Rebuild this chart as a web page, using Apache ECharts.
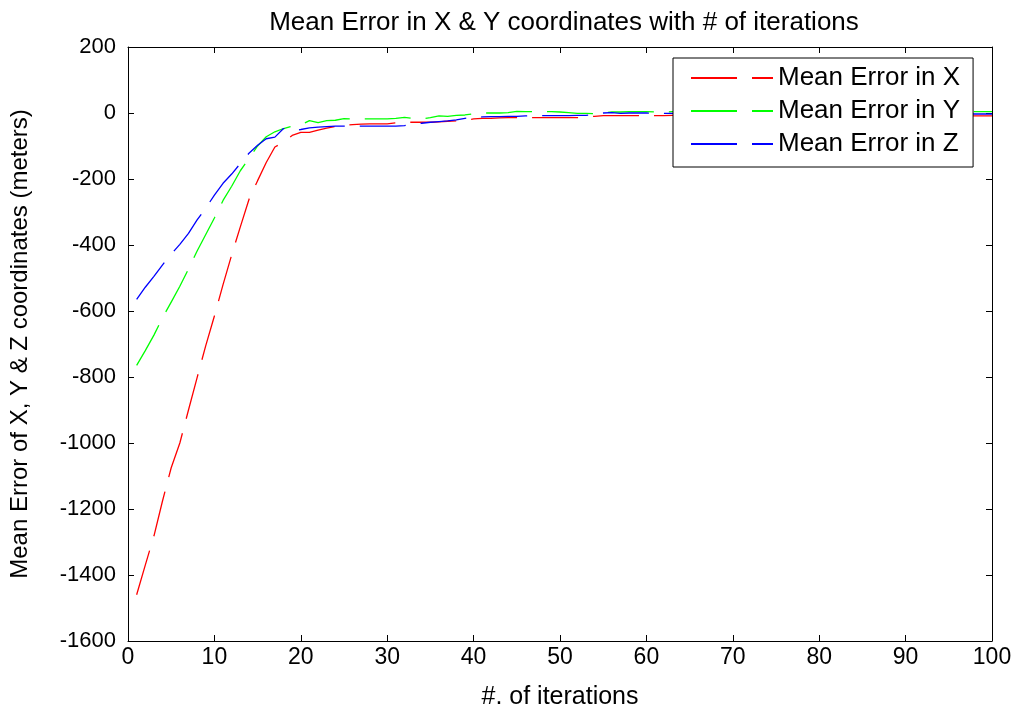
<!DOCTYPE html>
<html>
<head>
<meta charset="utf-8">
<script src="https://cdn.jsdelivr.net/npm/echarts@6/dist/echarts.min.js"></script>
<style>
  html, body { margin: 0; padding: 0; background: #fff; }
  #chart { width: 1019px; height: 715px; }
</style>
</head>
<body>
<div id="chart"></div>
<script>
// iteration numbers 1..100
var iterations = [];
for (var i = 1; i <= 100; i++) iterations.push(i);

var errorX = [
  -1460, -1370, -1282, -1175, -1075, -1000, -900, -802, -705, -615,
  -520, -430, -345, -262, -205, -150, -103, -88, -68, -59,
  -59, -52, -46, -41, -37, -35, -34, -33, -33, -33,
  -30, -28, -28, -28, -28, -27, -25, -24, -22, -18,
  -16, -16, -15, -14, -14, -14, -14, -14, -14, -14,
  -14, -14, -13, -10, -8, -8, -8, -8, -8, -8,
  -8, -8, -7, -7, -7, -8, -8, -8, -8, -9,
  -9, -8, -8, -8, -9, -9, -9, -8, -8, -8,
  -9, -9, -9, -9, -8, -8, -9, -9, -9, -9,
  -9, -9, -9, -9, -9, -9, -9, -9, -9, -9
];
var errorY = [
  -765, -720, -673, -620, -573, -525, -473, -418, -368, -318,
  -265, -222, -175, -138, -100, -72, -57, -47, -40, -36,
  -23, -29, -23, -22, -17, -18, -18, -18, -18, -18,
  -16, -13, -17, -18, -14, -9, -10, -7, -6, -2,
  0, 0, 0, 1, 5, 4, 4, 4, 4, 3,
  1, -1, -1, -2, 1, 3, 3, 4, 4, 4,
  3, 3, 4, 4, 3, 3, 4, 4, 4, 4,
  3, 3, 4, 4, 4, 4, 3, 3, 4, 4,
  4, 4, 4, 3, 3, 4, 4, 4, 4, 4,
  4, 4, 4, 4, 4, 4, 4, 4, 4, 4
];
var errorZ = [
  -565, -528, -495, -460, -428, -398, -365, -324, -288, -249,
  -213, -185, -153, -122, -98, -78, -73, -47, -54, -50,
  -45, -43, -41, -40, -40, -40, -40, -40, -40, -40,
  -40, -38, -35, -31, -28, -26, -24, -21, -16, -13,
  -12, -11, -11, -10, -10, -9, -8, -8, -8, -8,
  -8, -7, -7, -5, 0, 1, -1, 0, 0, 0,
  -1, -1, -1, -1, -2, -2, -2, -1, -1, -2,
  -2, -2, -2, -3, -3, -2, -2, -2, -3, -3,
  -3, -3, -2, -2, -3, -3, -3, -3, -3, -3,
  -3, -3, -3, -3, -3, -3, -3, -3, -3, -3
];

var seriesNames = ['Mean Error in X', 'Mean Error in Y', 'Mean Error in Z'];
var seriesColors = ['#ff0000', '#00ff00', '#0000ff'];
var xTicks = { min: 0, max: 100, interval: 10 };
var yTicks = { min: -1600, max: 200, interval: 200 };

function pairs(ys) {
  return iterations.map(function (x, k) { return [x, ys[k]]; });
}

var FONT = '"Liberation Sans", Arial, Helvetica, sans-serif';
var chart = echarts.init(document.getElementById('chart'), null, { renderer: 'canvas' });

function plain(v) { return String(v); }

function makeX(pos, show) {
  return {
    type: 'value', position: pos, min: xTicks.min, max: xTicks.max, interval: xTicks.interval,
    name: show ? '#. of iterations' : '', nameLocation: 'middle', nameGap: 44,
    nameTextStyle: { fontFamily: FONT, fontSize: 25, color: '#000' },
    axisLine: { show: true, onZero: false, lineStyle: { color: '#000', width: 1 } },
    axisTick: { show: true, inside: true, length: 6, lineStyle: { color: '#000' } },
    axisLabel: { show: show, fontFamily: FONT, fontSize: 23, color: '#000', margin: 5, formatter: plain },
    splitLine: { show: false }
  };
}
function makeY(pos, show) {
  return {
    type: 'value', position: pos, min: yTicks.min, max: yTicks.max, interval: yTicks.interval,
    name: show ? 'Mean Error of X, Y & Z coordinates (meters)' : '', nameLocation: 'middle', nameGap: 96,
    nameTextStyle: { fontFamily: FONT, fontSize: 24, color: '#000' },
    axisLine: { show: true, onZero: false, lineStyle: { color: '#000', width: 1 } },
    axisTick: { show: true, inside: true, length: 6, lineStyle: { color: '#000' } },
    axisLabel: { show: show, fontFamily: FONT, fontSize: 22, color: '#000', margin: 12, formatter: plain },
    splitLine: { show: false }
  };
}

var option = {
  backgroundColor: '#fff',
  animation: false,
  title: {
    text: 'Mean Error in X & Y coordinates with # of iterations',
    left: 559, top: 5, textAlign: 'center',
    textStyle: { fontFamily: FONT, fontSize: 26, fontWeight: 'normal', color: '#000' }
  },
  grid: { left: 126, right: 27, top: 47, bottom: 61, containLabel: false },
  legend: {
    orient: 'vertical', left: 673, top: 58,
    backgroundColor: '#fff', borderColor: '#000', borderWidth: 1,
    padding: [7, 13, 10, 17], itemGap: 7,
    itemWidth: 82, itemHeight: 14,
    itemStyle: { opacity: 0 },
    lineStyle: { opacity: 1 },
    textStyle: { fontFamily: FONT, fontSize: 26, color: '#000', lineHeight: 26 },
    data: seriesNames
  },
  xAxis: [makeX('bottom', true), makeX('top', false)],
  yAxis: [makeY('left', true), makeY('right', false)],
  series: seriesNames.map(function (n, k) {
    return {
      name: n, type: 'line', xAxisIndex: 0, yAxisIndex: 0,
      data: pairs([errorX, errorY, errorZ][k]),
      showSymbol: false, symbol: 'none',
      itemStyle: { color: seriesColors[k] },
      lineStyle: { color: seriesColors[k], width: 1.3, type: [46, 15] }
    };
  })
};
chart.setOption(option);
</script>
</body>
</html>
